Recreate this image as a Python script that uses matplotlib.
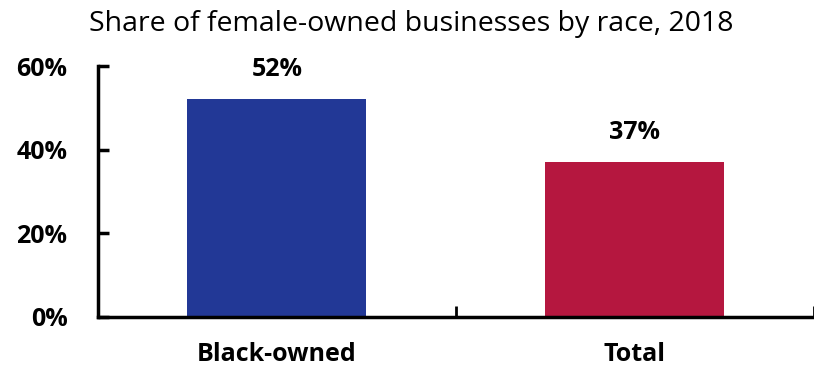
import matplotlib.pyplot as plt
from matplotlib.ticker import FuncFormatter

# Share of female-owned businesses, 2018
categories = ['Black-owned', 'Total']
shares = [52, 37]
bar_colors = ['#223896', '#B5173F']
y_ticks = [0, 20, 40, 60]

plt.rcParams['font.family'] = ['Open Sans', 'DejaVu Sans']

fig = plt.figure(figsize=(8.14, 3.71), dpi=100)
ax = fig.add_axes([0.1204, 0.1456, 0.879, 0.6765])

x = range(len(categories))
bars = ax.bar(x, shares, width=0.5, color=bar_colors)

for b, v in zip(bars, shares):
    ax.text(b.get_x() + b.get_width() / 2, v + 4.2, f'{v}%',
            ha='center', va='bottom', fontsize=18, fontweight='bold')

ax.set_xlim(-0.5, 1.5)
ax.set_ylim(0, 60)
ax.set_yticks(y_ticks)
ax.yaxis.set_major_formatter(FuncFormatter(lambda v, p: f'{v:.0f}%'))
ax.set_xticks(list(x))
ax.set_xticklabels(categories, fontsize=18, fontweight='bold')
ax.set_xticks([0.5, 1.5], minor=True)

for lab in ax.get_yticklabels():
    lab.set_fontsize(18)
    lab.set_fontweight('bold')

ax.spines['top'].set_visible(False)
ax.spines['right'].set_visible(False)
ax.spines['left'].set_linewidth(2.5)
ax.spines['bottom'].set_linewidth(2.5)

ax.tick_params(axis='y', direction='in', length=8, width=2.5, pad=22)
ax.tick_params(axis='x', which='major', length=0, pad=18)
ax.tick_params(axis='x', which='minor', direction='in', length=8, width=2)

fig.text(0.505, 0.935, 'Share of female-owned businesses by race, 2018',
         ha='center', va='center', fontsize=20.5)

fig.savefig('out.png', dpi=100)
